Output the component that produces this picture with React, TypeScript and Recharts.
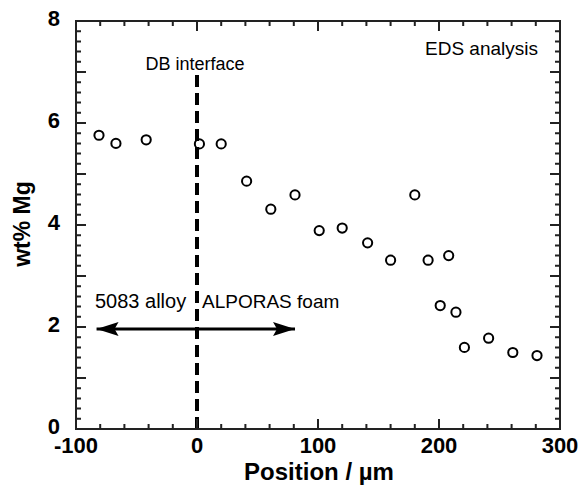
import React from "react";
import {
  ScatterChart,
  Scatter,
  XAxis,
  YAxis,
  ReferenceLine,
} from "recharts";

// EDS line scan across the diffusion bonded interface
const positionUm = [-81, -67, -42, 2, 20, 41, 61, 81, 101, 120, 141, 160, 180, 191, 201, 208, 214, 221, 241, 261, 281];
const mgWt = [5.76, 5.6, 5.67, 5.59, 5.59, 4.86, 4.31, 4.59, 3.89, 3.94, 3.65, 3.31, 4.59, 3.31, 2.42, 3.4, 2.29, 1.6, 1.78, 1.5, 1.44];

const points = positionUm.map((x, i) => ({ x, y: mgWt[i] }));

// double arrow: 5083 alloy <-> ALPORAS foam
const arrowX = [-83, 81];
const arrowY = 1.96;
const arrowEnds = arrowX.map((x) => ({ x, y: arrowY }));

// interface line
const interfaceX = 0;
const interfaceTop = 7.05;

const xDomain = [-100, 300];
const yDomain = [0, 8];
const xMajor = [-100, 0, 100, 200, 300];
const yMajor = [0, 2, 4, 6, 8];
const xTicks = Array.from({ length: 21 }, (_, i) => -100 + i * 20);
const yTicks = Array.from({ length: 41 }, (_, i) => Math.round(i * 2) / 10);

const W = 581;
const H = 492;
const MARGIN = { top: 21, right: 21, bottom: 23, left: 16 };
const X_AXIS_H = 40;
const Y_AXIS_W = 60;
// plot box, for the frame and inward tick marks drawn on top
const BOX_X = MARGIN.left + Y_AXIS_W;
const BOX_Y = MARGIN.top;
const BOX_W = W - MARGIN.left - MARGIN.right - Y_AXIS_W;
const BOX_H = H - MARGIN.top - MARGIN.bottom - X_AXIS_H;
const font = "'Liberation Sans', Arial, sans-serif";
const FRAME = "#222";

const isInt = (v: number) => Math.abs(v - Math.round(v)) < 1e-6;
const px = (v: number) => BOX_X + ((v - xDomain[0]) / (xDomain[1] - xDomain[0])) * BOX_W;
const py = (v: number) => BOX_Y + BOX_H - ((v - yDomain[0]) / (yDomain[1] - yDomain[0])) * BOX_H;

const BottomLabel = ({ x, y, payload }: any) => {
  const v = payload.value;
  if (!xMajor.includes(v)) return <g />;
  return (
    <text x={x} y={y + 24} textAnchor="middle" fontSize={22} fontWeight="bold" fontFamily={font} fill="#000">
      {v}
    </text>
  );
};

const LeftLabel = ({ x, y, payload }: any) => {
  const v = payload.value;
  if (!yMajor.some((m) => Math.abs(m - v) < 1e-6)) return <g />;
  return (
    <text x={x - 16} y={y + 5} textAnchor="end" fontSize={22} fontWeight="bold" fontFamily={font} fill="#000">
      {Math.round(v)}
    </text>
  );
};

const OpenCircle = ({ cx, cy }: any) => (
  <circle cx={cx} cy={cy} r={4.6} fill="none" stroke="#000" strokeWidth={2} />
);

const ArrowHead = ({ cx, cy, payload }: any) => {
  const dir = payload.x < 0 ? 1 : -1;
  return (
    <polygon
      points={`${cx},${cy} ${cx + dir * 22},${cy - 7} ${cx + dir * 18},${cy} ${cx + dir * 22},${cy + 7}`}
      fill="#000"
    />
  );
};

export default function App() {
  return (
    <div style={{ position: "relative", width: W, height: H, background: "#fff" }}>
      <style>{`body{margin:0;background:#fff}`}</style>
      <ScatterChart width={W} height={H} margin={MARGIN}>
        <XAxis
          xAxisId="bottom"
          type="number"
          dataKey="x"
          domain={xDomain}
          ticks={xTicks}
          interval={0}
          height={X_AXIS_H}
          tickSize={0}
          tickMargin={0}
          tickLine={false}
          axisLine={false}
          tick={<BottomLabel />}
        />
        <YAxis
          yAxisId="left"
          type="number"
          dataKey="y"
          domain={yDomain}
          ticks={yTicks}
          interval={0}
          width={Y_AXIS_W}
          tickSize={0}
          tickMargin={0}
          tickLine={false}
          axisLine={false}
          tick={<LeftLabel />}
        />
        <ReferenceLine
          xAxisId="bottom"
          yAxisId="left"
          segment={[
            { x: interfaceX, y: 0 },
            { x: interfaceX, y: interfaceTop },
          ]}
          stroke="#000"
          strokeWidth={4}
          strokeDasharray="12 6"
        />
        <ReferenceLine
          xAxisId="bottom"
          yAxisId="left"
          segment={arrowEnds}
          stroke="#000"
          strokeWidth={3}
        />
        <Scatter
          xAxisId="bottom"
          yAxisId="left"
          data={arrowEnds}
          shape={<ArrowHead />}
          isAnimationActive={false}
        />
        <Scatter
          xAxisId="bottom"
          yAxisId="left"
          data={points}
          shape={<OpenCircle />}
          isAnimationActive={false}
        />
      </ScatterChart>
      <svg
        width={W}
        height={H}
        style={{ position: "absolute", left: 0, top: 0, pointerEvents: "none" }}
        fontFamily={font}
      >
        {/* frame with inward ticks on all four sides */}
        <rect x={BOX_X} y={BOX_Y} width={BOX_W} height={BOX_H} fill="none" stroke={FRAME} strokeWidth={2} />
        {xTicks.map((v) => {
          const len = xMajor.includes(v) ? 10 : 5;
          const x = px(v);
          return (
            <path
              key={`xt${v}`}
              d={`M${x},${BOX_Y + BOX_H}v${-len}M${x},${BOX_Y}v${len}`}
              stroke={FRAME}
              strokeWidth={2}
            />
          );
        })}
        {yTicks.map((v) => {
          const len = isInt(v) ? 10 : 5;
          const y = py(v);
          return (
            <path
              key={`yt${v}`}
              d={`M${BOX_X},${y}h${len}M${BOX_X + BOX_W},${y}h${-len}`}
              stroke={FRAME}
              strokeWidth={2}
            />
          );
        })}
        <text x={195} y={70} textAnchor="middle" fontSize={18} fill="#000">DB interface</text>
        <text x={538} y={55} textAnchor="end" fontSize={19} fill="#000">EDS analysis</text>
        <text x={95} y={308} fontSize={20} fill="#000">5083 alloy</text>
        <text x={202} y={308} fontSize={19} fill="#000">ALPORAS foam</text>
        <text x={319} y={480} textAnchor="middle" fontSize={24} fontWeight="bold" fill="#000">Position / µm</text>
        <text transform="translate(30,224) rotate(-90)" textAnchor="middle" fontSize={23} fontWeight="bold" fill="#000">wt% Mg</text>
      </svg>
    </div>
  );
}
